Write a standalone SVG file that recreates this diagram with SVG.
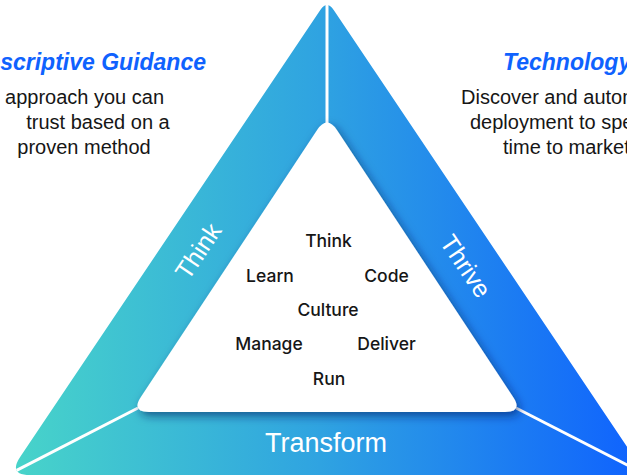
<svg xmlns="http://www.w3.org/2000/svg" width="627" height="476" viewBox="0 0 627 476">
  <defs>
    <linearGradient id="bandGrad" gradientUnits="userSpaceOnUse" x1="0" y1="0" x2="640" y2="0">
      <stop offset="0" stop-color="#49d6c8"/>
      <stop offset="0.5" stop-color="#2fa3e1"/>
      <stop offset="1" stop-color="#0f62fe"/>
    </linearGradient>
    <filter id="innerShadow" x="-20%" y="-20%" width="140%" height="140%">
      <feDropShadow dx="3" dy="4" stdDeviation="5" flood-color="#06245e" flood-opacity="0.6"/>
    </filter>
    <style>
      .heading { font-family: "Liberation Sans", Arial, sans-serif; font-size: 23px; font-weight: bold; font-style: italic; fill: #0f62fe; }
      .body { font-family: "Liberation Sans", Arial, sans-serif; font-size: 20px; fill: #161616; }
      .band { font-family: "Liberation Sans", Arial, sans-serif; fill: #ffffff; text-anchor: middle; }
      .inner { font-family: Inter, "Liberation Sans", Arial, sans-serif; font-size: 17.5px; font-weight: 500; fill: #161616; text-anchor: middle; }
      .sep { stroke: #ffffff; stroke-width: 3; fill: none; }
    </style>
  </defs>

  <rect width="627" height="476" fill="#ffffff"/>

  <g id="outer-triangle">
    <path d="M 320.3 10 Q 327 0 333.7 10 L 633.7 456.7 Q 646 475 624 475 L 30 475 Q 8 475 20.3 456.7 Z" fill="url(#bandGrad)"/>
  </g>

  <g id="connectors">
    <line class="sep" x1="327" y1="0" x2="327" y2="124"/>
    <line class="sep" x1="138" y1="408" x2="16.6" y2="470.4"/>
    <line class="sep" x1="516" y1="408" x2="640" y2="471.5"/>
  </g>

  <g id="inner-triangle">
    <path d="M 317.1 130 Q 327 115 336.9 130 L 513.1 397 Q 523 412 505 412 L 149 412 Q 131 412 140.9 397 Z" fill="#ffffff" filter="url(#innerShadow)"/>
  </g>

  <g id="band-think">
    <text class="band" font-size="25" transform="translate(198 251) rotate(-56)" y="9">Think</text>
  </g>
  <g id="band-thrive">
    <text class="band" font-size="25" transform="translate(466 266) rotate(56)" y="9">Thrive</text>
  </g>
  <g id="band-transform">
    <text class="band" font-size="27" x="326" y="452">Transform</text>
  </g>

  <g id="inner-labels">
    <text class="inner" x="328.5" y="247">Think</text>
    <text class="inner" x="270" y="282">Learn</text>
    <text class="inner" x="386.5" y="282">Code</text>
    <text class="inner" x="328" y="316">Culture</text>
    <text class="inner" x="269" y="350">Manage</text>
    <text class="inner" x="386.5" y="350">Deliver</text>
    <text class="inner" x="329" y="385">Run</text>
  </g>

  <g id="prescriptive-guidance">
    <text class="heading" x="206" y="70" text-anchor="end">Prescriptive Guidance</text>
    <text class="body" x="-25" y="104">An approach you can</text>
    <text class="body" x="98" y="129" text-anchor="middle">trust based on a</text>
    <text class="body" x="84" y="154" text-anchor="middle">proven method</text>
  </g>

  <g id="technology">
    <text class="heading" x="503" y="70">Technology</text>
    <text class="body" x="461" y="104">Discover and automate</text>
    <text class="body" x="470" y="129">deployment to speed</text>
    <text class="body" x="503" y="154">time to market</text>
  </g>
</svg>
